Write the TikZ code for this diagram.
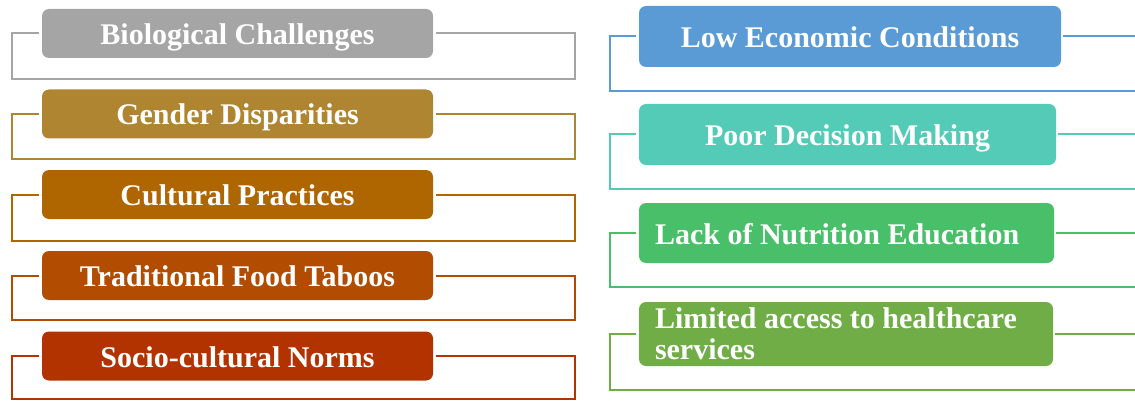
\documentclass[tikz,border=0pt]{standalone}
\usepackage{fontspec}
\setmainfont{Liberation Serif}
\definecolor{cA}{HTML}{A5A5A5}
\definecolor{cB}{HTML}{B08532}
\definecolor{cC}{HTML}{AF6500}
\definecolor{cD}{HTML}{B14C00}
\definecolor{cE}{HTML}{B33300}
\definecolor{cF}{HTML}{5B9BD5}
\definecolor{cG}{HTML}{54CBB7}
\definecolor{cH}{HTML}{49BF69}
\definecolor{cI}{HTML}{70AD47}
\begin{document}
\begin{tikzpicture}[x=1pt,y=-1pt,
  box/.style={rounded corners=7pt, fill=#1, draw=none, text=white,
    font=\bfseries\fontsize{30}{31}\selectfont, inner sep=0pt,
    text height=22pt, text depth=0pt},
  lbox/.style={box=#1, minimum width=391pt, minimum height=49pt},
  frame/.style={draw=#1, line width=2pt}]
\useasboundingbox (0,0) rectangle (1135,401);
\clip (0,0) rectangle (1135,401);
\coordinate (L) at (12,0);
\coordinate (R) at (575,0);
\coordinate (L2) at (610,0);
\coordinate (R2) at (1145,0);

% left column
\node[lbox=cA] (b1) at (237.5,33.5) {Biological Challenges};
\node[lbox=cB] (b2) at (237.5,114) {Gender Disparities};
\node[lbox=cC] (b3) at (237.5,194.5) {Cultural Practices};
\node[lbox=cD] (b4) at (237.5,275.5) {Traditional Food Taboos};
\node[lbox=cE] (b5) at (237.5,356) {Socio-cultural Norms};

\draw[frame=cA] ([xshift=-3pt]b1.west) -- (b1.west -| L) -- ++(0,45.5) -| (b1.east -| R) -- ([xshift=3pt]b1.east);
\draw[frame=cB] ([xshift=-3pt]b2.west) -- (b2.west -| L) -- ++(0,45) -| (b2.east -| R) -- ([xshift=3pt]b2.east);
\draw[frame=cC] ([xshift=-3pt]b3.west) -- (b3.west -| L) -- ++(0,46) -| (b3.east -| R) -- ([xshift=3pt]b3.east);
\draw[frame=cD] ([xshift=-3pt]b4.west) -- (b4.west -| L) -- ++(0,44.5) -| (b4.east -| R) -- ([xshift=3pt]b4.east);
\draw[frame=cE] ([xshift=-3pt]b5.west) -- (b5.west -| L) -- ++(0,43) -| (b5.east -| R) -- ([xshift=3pt]b5.east);

% right column
\node[box=cF, minimum width=422pt, minimum height=61pt] (r1) at (850,36.5) {Low Economic Conditions};
\node[box=cG, minimum width=417pt, minimum height=61pt] (r2) at (847.5,134.5) {Poor Decision Making};
\node[box=cH, minimum height=60pt, text width=383pt, inner xsep=16pt, align=flush left] (r3) at (846.5,233) {Lack of Nutrition Education};
\node[box=cI, minimum height=64pt, text width=382pt, inner xsep=16pt, align=flush left, text height=20pt, text depth=31pt] (r4) at (846,334) {Limited access to healthcare\\services};

\draw[frame=cF] ([xshift=-3pt]r1.west) -- (r1.west -| L2) -- ++(0,54.5) -- ++(540,0);
\draw[frame=cF] ([xshift=2pt]r1.east) -- (r1.east -| R2);
\draw[frame=cG] ([xshift=-3pt]r2.west) -- (r2.west -| L2) -- ++(0,54.5) -- ++(540,0);
\draw[frame=cG] ([xshift=2pt]r2.east) -- (r2.east -| R2);
\draw[frame=cH] ([xshift=-3pt]r3.west) -- (r3.west -| L2) -- ++(0,54) -- ++(540,0);
\draw[frame=cH] ([xshift=2pt]r3.east) -- (r3.east -| R2);
\draw[frame=cI] ([xshift=-3pt]r4.west) -- (r4.west -| L2) -- ++(0,56) -- ++(540,0);
\draw[frame=cI] ([xshift=2pt]r4.east) -- (r4.east -| R2);
\end{tikzpicture}
\end{document}
